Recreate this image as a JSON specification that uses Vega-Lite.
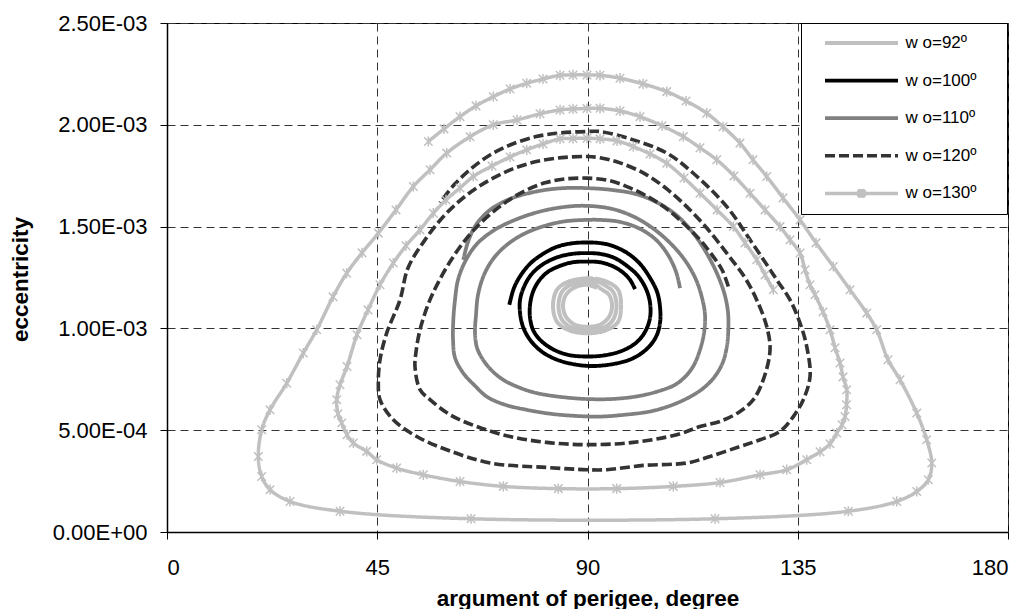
{
"$schema":"https://vega.github.io/schema/vega-lite/v6.json",
"width":841,"height":509,
"autosize":{"type":"none"},
"padding":{"left":167,"top":23,"right":22,"bottom":77},
"background":"white",
"config":{
 "view":{"stroke":"#000","strokeWidth":1},
 "font":"Liberation Sans",
 "axis":{"domainColor":"#000","domainWidth":1.5,"tickColor":"#000","tickSize":7,"tickWidth":1,
  "labelColor":"#000","labelFont":"Liberation Sans","labelFontSize":22,
  "titleFont":"Liberation Sans","titleFontWeight":"bold","titleFontSize":22.5,"titleColor":"#000",
  "gridDash":[8,5],"gridWidth":1,"gridColor":"#333"}
},
"data":{"values":[
{"s":"92","x":92.04,"y":0.001199},{"s":"92","x":89.9,"y":0.001214},{"s":"92","x":87.33,"y":0.001202},{"s":"92","x":85.4,"y":0.001165},{"s":"92","x":84.76,"y":0.001111},{"s":"92","x":85.4,"y":0.001057},{"s":"92","x":87.33,"y":0.001018},{"s":"92","x":90.0,"y":0.001008},{"s":"92","x":92.68,"y":0.001018},{"s":"92","x":94.61,"y":0.001057},{"s":"92","x":95.25,"y":0.001111},{"s":"92","x":94.61,"y":0.001165},{"s":"92","x":92.89,"y":0.001194},
{"s":"92","x":90.97,"y":0.001226},{"s":"92","x":89.9,"y":0.001229},{"s":"92","x":86.69,"y":0.001217},{"s":"92","x":84.55,"y":0.00118},{"s":"92","x":83.8,"y":0.001111},{"s":"92","x":84.55,"y":0.001042},{"s":"92","x":86.69,"y":0.001003},{"s":"92","x":90.0,"y":0.000993},{"s":"92","x":93.32,"y":0.001003},{"s":"92","x":95.46,"y":0.001042},{"s":"92","x":96.21,"y":0.001111},{"s":"92","x":95.46,"y":0.00118},{"s":"92","x":93.32,"y":0.001217},
{"s":"92","x":90.97,"y":0.001245},{"s":"92","x":89.9,"y":0.001246},{"s":"92","x":86.04,"y":0.001231},{"s":"92","x":83.48,"y":0.00119},{"s":"92","x":82.62,"y":0.001111},{"s":"92","x":83.48,"y":0.001032},{"s":"92","x":86.04,"y":0.000991},{"s":"92","x":90.0,"y":0.000976},{"s":"92","x":93.96,"y":0.000991},{"s":"92","x":96.53,"y":0.001032},{"s":"92","x":97.17,"y":0.001111},{"s":"92","x":96.53,"y":0.00119},{"s":"92","x":93.96,"y":0.001231},{"s":"92","x":91.61,"y":0.001245},

{"s":"100","x":100.17,"y":0.001193},{"s":"100","x":99.1,"y":0.001239},{"s":"100","x":97.39,"y":0.001278},{"s":"100","x":95.25,"y":0.001307},{"s":"100","x":92.68,"y":0.001325},{"s":"100","x":89.9,"y":0.001328},{"s":"100","x":86.9,"y":0.001325},{"s":"100","x":84.12,"y":0.001307},{"s":"100","x":81.55,"y":0.001278},{"s":"100","x":79.62,"y":0.001234},{"s":"100","x":78.34,"y":0.00118},{"s":"100","x":77.7,"y":0.001116},{"s":"100","x":77.7,"y":0.001052},{"s":"100","x":78.34,"y":0.000993},{"s":"100","x":79.84,"y":0.000944},{"s":"100","x":82.41,"y":0.0009},{"s":"100","x":85.83,"y":0.00087},{"s":"100","x":89.9,"y":0.000862},{"s":"100","x":93.75,"y":0.000868},{"s":"100","x":97.39,"y":0.00089},{"s":"100","x":100.38,"y":0.000929},{"s":"100","x":102.31,"y":0.000983},{"s":"100","x":103.38,"y":0.001052},{"s":"100","x":103.38,"y":0.001126},{"s":"100","x":102.52,"y":0.001194},{"s":"100","x":100.81,"y":0.001258},{"s":"100","x":98.46,"y":0.001307},{"s":"100","x":95.68,"y":0.001347},{"s":"100","x":92.68,"y":0.001366},{"s":"100","x":89.9,"y":0.00137},{"s":"100","x":86.69,"y":0.001366},{"s":"100","x":83.26,"y":0.001347},{"s":"100","x":80.27,"y":0.001312},{"s":"100","x":77.91,"y":0.001263},{"s":"100","x":76.41,"y":0.001204},{"s":"100","x":75.56,"y":0.00114},{"s":"100","x":75.56,"y":0.001077},{"s":"100","x":76.2,"y":0.001008},{"s":"100","x":77.7,"y":0.000944},{"s":"100","x":80.27,"y":0.000885},{"s":"100","x":84.12,"y":0.000841},{"s":"100","x":89.9,"y":0.000816},{"s":"100","x":95.25,"y":0.000824},{"s":"100","x":99.53,"y":0.000851},{"s":"100","x":102.74,"y":0.0009},{"s":"100","x":104.67,"y":0.000959},{"s":"100","x":105.52,"y":0.001027},{"s":"100","x":105.52,"y":0.001106},{"s":"100","x":104.88,"y":0.00118},{"s":"100","x":103.38,"y":0.001248},{"s":"100","x":101.24,"y":0.001317},{"s":"100","x":98.46,"y":0.001371},{"s":"100","x":95.25,"y":0.001406},{"s":"100","x":92.68,"y":0.001419},{"s":"100","x":89.9,"y":0.001422},{"s":"100","x":86.69,"y":0.001418},{"s":"100","x":83.48,"y":0.001401},{"s":"100","x":80.48,"y":0.001366},{"s":"100","x":77.91,"y":0.001322},{"s":"100","x":75.77,"y":0.001263},{"s":"100","x":74.27,"y":0.001199},{"s":"100","x":73.27,"y":0.001116},

{"s":"110","x":109.8,"y":0.001198},{"s":"110","x":108.95,"y":0.001278},{"s":"110","x":107.23,"y":0.001361},{"s":"110","x":104.67,"y":0.001435},{"s":"110","x":101.24,"y":0.001489},{"s":"110","x":96.96,"y":0.001523},{"s":"110","x":92.68,"y":0.001533},{"s":"110","x":89.9,"y":0.001533},{"s":"110","x":85.19,"y":0.001526},{"s":"110","x":80.91,"y":0.001504},{"s":"110","x":76.84,"y":0.001469},{"s":"110","x":72.99,"y":0.001415},{"s":"110","x":69.99,"y":0.001347},{"s":"110","x":67.85,"y":0.001263},{"s":"110","x":66.57,"y":0.001165},{"s":"110","x":66.14,"y":0.001067},{"s":"110","x":65.92,"y":0.000978},{"s":"110","x":66.35,"y":0.000905},{"s":"110","x":67.64,"y":0.000846},{"s":"110","x":69.56,"y":0.000792},{"s":"110","x":71.92,"y":0.000748},{"s":"110","x":75.56,"y":0.000708},{"s":"110","x":79.19,"y":0.000682},{"s":"110","x":84.12,"y":0.000664},{"s":"110","x":89.9,"y":0.000653},{"s":"110","x":95.89,"y":0.000654},{"s":"110","x":101.24,"y":0.000669},{"s":"110","x":105.52,"y":0.000694},{"s":"110","x":108.73,"y":0.000723},{"s":"110","x":111.09,"y":0.000767},{"s":"110","x":112.8,"y":0.000821},{"s":"110","x":114.08,"y":0.000895},{"s":"110","x":114.94,"y":0.000978},{"s":"110","x":115.15,"y":0.001067},{"s":"110","x":114.51,"y":0.00115},{"s":"110","x":113.23,"y":0.001239},{"s":"110","x":111.09,"y":0.001327},{"s":"110","x":108.09,"y":0.00141},{"s":"110","x":104.45,"y":0.001484},{"s":"110","x":99.96,"y":0.001548},{"s":"110","x":95.25,"y":0.001587},{"s":"110","x":89.9,"y":0.001602},{"s":"110","x":85.19,"y":0.001597},{"s":"110","x":79.84,"y":0.001574},{"s":"110","x":74.49,"y":0.001533},{"s":"110","x":69.78,"y":0.001479},{"s":"110","x":66.14,"y":0.00141},{"s":"110","x":63.78,"y":0.001327},{"s":"110","x":62.29,"y":0.001239},{"s":"110","x":61.64,"y":0.00114},{"s":"110","x":61.28,"y":0.001042},{"s":"110","x":61.22,"y":0.000944},{"s":"110","x":61.64,"y":0.000856},{"s":"110","x":63.36,"y":0.000782},{"s":"110","x":65.92,"y":0.000718},{"s":"110","x":68.49,"y":0.000664},{"s":"110","x":72.35,"y":0.000625},{"s":"110","x":77.05,"y":0.0006},{"s":"110","x":81.98,"y":0.000581},{"s":"110","x":86.9,"y":0.000571},{"s":"110","x":92.68,"y":0.000567},{"s":"110","x":98.03,"y":0.000576},{"s":"110","x":103.38,"y":0.000592},{"s":"110","x":107.66,"y":0.00062},{"s":"110","x":111.94,"y":0.000664},{"s":"110","x":115.15,"y":0.000713},{"s":"110","x":117.51,"y":0.000772},{"s":"110","x":119.01,"y":0.000836},{"s":"110","x":119.86,"y":0.000915},{"s":"110","x":120.14,"y":0.000993},{"s":"110","x":120.08,"y":0.001077},{"s":"110","x":119.43,"y":0.00116},{"s":"110","x":117.94,"y":0.001258},{"s":"110","x":115.58,"y":0.001366},{"s":"110","x":112.59,"y":0.001469},{"s":"110","x":108.95,"y":0.001558},{"s":"110","x":104.67,"y":0.001621},{"s":"110","x":100.17,"y":0.001661},{"s":"110","x":95.25,"y":0.00168},{"s":"110","x":89.9,"y":0.001689},{"s":"110","x":84.12,"y":0.001688},{"s":"110","x":78.77,"y":0.001671},{"s":"110","x":73.42,"y":0.001636},{"s":"110","x":69.14,"y":0.001582},{"s":"110","x":66.14,"y":0.001509},{"s":"110","x":64.43,"y":0.001425},{"s":"110","x":63.42,"y":0.001337},

{"s":"120","x":120.14,"y":0.001206},{"s":"120","x":118.79,"y":0.001288},{"s":"120","x":116.65,"y":0.001361},{"s":"120","x":114.08,"y":0.001435},{"s":"120","x":110.87,"y":0.001509},{"s":"120","x":107.23,"y":0.001582},{"s":"120","x":103.38,"y":0.001641},{"s":"120","x":99.1,"y":0.00169},{"s":"120","x":94.82,"y":0.001725},{"s":"120","x":89.9,"y":0.001738},{"s":"120","x":85.19,"y":0.001734},{"s":"120","x":80.91,"y":0.001715},{"s":"120","x":76.63,"y":0.001676},{"s":"120","x":72.35,"y":0.001617},{"s":"120","x":68.06,"y":0.001538},{"s":"120","x":64.21,"y":0.001445},{"s":"120","x":60.57,"y":0.001327},{"s":"120","x":57.79,"y":0.001214},{"s":"120","x":55.86,"y":0.001116},{"s":"120","x":54.15,"y":0.000993},{"s":"120","x":53.3,"y":0.000885},{"s":"120","x":53.08,"y":0.000811},{"s":"120","x":54.15,"y":0.000699},{"s":"120","x":56.29,"y":0.00065},{"s":"120","x":60.57,"y":0.000576},{"s":"120","x":66.29,"y":0.000518},{"s":"120","x":73.42,"y":0.000469},{"s":"120","x":81.27,"y":0.00044},{"s":"120","x":89.9,"y":0.000429},{"s":"120","x":99.74,"y":0.00044},{"s":"120","x":109.1,"y":0.000478},{"s":"120","x":114.08,"y":0.000518},{"s":"120","x":118.36,"y":0.000543},{"s":"120","x":122.64,"y":0.000592},{"s":"120","x":125.49,"y":0.00065},{"s":"120","x":127.63,"y":0.000748},{"s":"120","x":129.07,"y":0.000895},{"s":"120","x":128.36,"y":0.001009},{"s":"120","x":126.22,"y":0.00114},{"s":"120","x":123.72,"y":0.001248},{"s":"120","x":120.08,"y":0.001361},{"s":"120","x":116.22,"y":0.001474},{"s":"120","x":111.94,"y":0.001582},{"s":"120","x":107.23,"y":0.00168},{"s":"120","x":102.31,"y":0.001759},{"s":"120","x":96.96,"y":0.001813},{"s":"120","x":92.68,"y":0.001838},{"s":"120","x":89.9,"y":0.001844},{"s":"120","x":85.19,"y":0.00184},{"s":"120","x":79.84,"y":0.001823},{"s":"120","x":74.49,"y":0.001788},{"s":"120","x":69.14,"y":0.00173},{"s":"120","x":64.21,"y":0.001656},{"s":"120","x":59.5,"y":0.001558},{"s":"120","x":55.22,"y":0.001435},{"s":"120","x":51.58,"y":0.001297},{"s":"120","x":49.87,"y":0.00114},{"s":"120","x":47.02,"y":0.000977},{"s":"120","x":45.59,"y":0.000846},{"s":"120","x":45.23,"y":0.000731},{"s":"120","x":45.59,"y":0.00065},{"s":"120","x":48.44,"y":0.000551},{"s":"120","x":53.45,"y":0.000469},{"s":"120","x":59.87,"y":0.000404},{"s":"120","x":69.14,"y":0.000339},{"s":"120","x":81.27,"y":0.000317},{"s":"120","x":89.9,"y":0.000306},{"s":"120","x":94.11,"y":0.000306},{"s":"120","x":101.95,"y":0.000327},{"s":"120","x":111.24,"y":0.000339},{"s":"120","x":116.22,"y":0.000371},{"s":"120","x":122.64,"y":0.00042},{"s":"120","x":126.93,"y":0.000453},{"s":"120","x":131.21,"y":0.000494},{"s":"120","x":134.05,"y":0.000567},{"s":"120","x":136.19,"y":0.00065},{"s":"120","x":137.63,"y":0.000764},{"s":"120","x":136.92,"y":0.000911},{"s":"120","x":135.49,"y":0.001026},{"s":"120","x":133.35,"y":0.00114},{"s":"120","x":130.5,"y":0.001239},{"s":"120","x":124.79,"y":0.001435},{"s":"120","x":119.8,"y":0.001598},{"s":"120","x":112.65,"y":0.001762},{"s":"120","x":106.96,"y":0.001861},{"s":"120","x":99.81,"y":0.001926},{"s":"120","x":92.68,"y":0.001967},{"s":"120","x":89.9,"y":0.001967},{"s":"120","x":84.12,"y":0.00196},{"s":"120","x":78.77,"y":0.001941},{"s":"120","x":73.42,"y":0.001901},{"s":"120","x":69.14,"y":0.001852},{"s":"120","x":65.28,"y":0.001788},{"s":"120","x":61.64,"y":0.00171},{"s":"120","x":58.43,"y":0.001617},

{"s":"130","x":129.77,"y":0.00119},{"s":"130","x":128.0,"y":0.001263},{"s":"130","x":126.22,"y":0.001337},{"s":"130","x":123.72,"y":0.00142},{"s":"130","x":121.21,"y":0.0015},{"s":"130","x":117.72,"y":0.001582},{"s":"130","x":114.08,"y":0.001664},{"s":"130","x":110.66,"y":0.001739},{"s":"130","x":106.96,"y":0.001811},{"s":"130","x":103.38,"y":0.001857},{"s":"130","x":99.81,"y":0.001893},{"s":"130","x":96.32,"y":0.001921},{"s":"130","x":92.68,"y":0.001931},{"s":"130","x":89.9,"y":0.001934},{"s":"130","x":86.9,"y":0.001933},{"s":"130","x":84.12,"y":0.001931},{"s":"130","x":80.48,"y":0.001906},{"s":"130","x":76.99,"y":0.001877},{"s":"130","x":73.42,"y":0.001842},{"s":"130","x":69.56,"y":0.001798},{"s":"130","x":65.56,"y":0.001746},{"s":"130","x":62.71,"y":0.00169},{"s":"130","x":59.72,"y":0.001631},{"s":"130","x":57.0,"y":0.001566},{"s":"130","x":54.15,"y":0.001484},{"s":"130","x":51.16,"y":0.001406},{"s":"130","x":48.44,"y":0.001321},{"s":"130","x":45.59,"y":0.001214},{"s":"130","x":43.02,"y":0.001091},{"s":"130","x":40.67,"y":0.000969},{"s":"130","x":38.53,"y":0.000813},{"s":"130","x":37.03,"y":0.000723},{"s":"130","x":36.32,"y":0.00065},{"s":"130","x":36.6,"y":0.000581},{"s":"130","x":37.39,"y":0.000535},{"s":"130","x":38.53,"y":0.000478},{"s":"130","x":39.88,"y":0.000437},{"s":"130","x":42.74,"y":0.000396},{"s":"130","x":44.88,"y":0.000355},{"s":"130","x":49.16,"y":0.000314},{"s":"130","x":54.86,"y":0.000281},{"s":"130","x":62.71,"y":0.000248},{"s":"130","x":71.98,"y":0.000224},{"s":"130","x":83.75,"y":0.000213},{"s":"130","x":96.25,"y":0.000213},{"s":"130","x":108.37,"y":0.000224},{"s":"130","x":118.36,"y":0.000243},{"s":"130","x":126.93,"y":0.000281},{"s":"130","x":132.64,"y":0.000306},{"s":"130","x":136.92,"y":0.000355},{"s":"130","x":139.77,"y":0.000394},{"s":"130","x":141.91,"y":0.000433},{"s":"130","x":143.34,"y":0.000486},{"s":"130","x":144.48,"y":0.000527},{"s":"130","x":145.12,"y":0.000567},{"s":"130","x":145.44,"y":0.000625},{"s":"130","x":145.48,"y":0.000699},{"s":"130","x":144.69,"y":0.000762},{"s":"130","x":144.05,"y":0.00083},{"s":"130","x":142.98,"y":0.000905},{"s":"130","x":141.91,"y":0.000993},{"s":"130","x":140.41,"y":0.001081},{"s":"130","x":138.7,"y":0.001165},{"s":"130","x":137.63,"y":0.001214},{"s":"130","x":136.56,"y":0.001288},{"s":"130","x":135.49,"y":0.00137},{"s":"130","x":133.35,"y":0.001435},{"s":"130","x":131.21,"y":0.0015},{"s":"130","x":128.0,"y":0.001582},{"s":"130","x":124.79,"y":0.001664},{"s":"130","x":121.36,"y":0.001749},{"s":"130","x":117.66,"y":0.001828},{"s":"130","x":114.08,"y":0.001887},{"s":"130","x":110.51,"y":0.001942},{"s":"130","x":105.95,"y":0.001995},{"s":"130","x":101.24,"y":0.00204},{"s":"130","x":96.96,"y":0.002068},{"s":"130","x":92.68,"y":0.002081},{"s":"130","x":89.9,"y":0.00208},{"s":"130","x":86.9,"y":0.002078},{"s":"130","x":84.12,"y":0.002073},{"s":"130","x":79.84,"y":0.002054},{"s":"130","x":74.91,"y":0.002024},{"s":"130","x":69.84,"y":0.002},{"s":"130","x":64.85,"y":0.001941},{"s":"130","x":59.87,"y":0.001861},{"s":"130","x":56.29,"y":0.001779},{"s":"130","x":52.72,"y":0.001697},{"s":"130","x":49.01,"y":0.001582},{"s":"130","x":45.23,"y":0.001468},{"s":"130","x":41.74,"y":0.001371},{"s":"130","x":38.46,"y":0.001271},{"s":"130","x":35.53,"y":0.001155},{"s":"130","x":32.04,"y":0.000993},{"s":"130","x":29.17,"y":0.000879},{"s":"130","x":25.62,"y":0.000731},{"s":"130","x":22.05,"y":0.0006},{"s":"130","x":20.27,"y":0.000502},{"s":"130","x":19.54,"y":0.000371},{"s":"130","x":20.27,"y":0.000273},{"s":"130","x":22.05,"y":0.000208},{"s":"130","x":26.33,"y":0.00015},{"s":"130","x":37.03,"y":0.000102},{"s":"130","x":65.07,"y":0.000065},{"s":"130","x":117.29,"y":0.000065},{"s":"130","x":145.82,"y":0.000102},{"s":"130","x":156.19,"y":0.00015},{"s":"130","x":160.47,"y":0.000199},{"s":"130","x":162.95,"y":0.000257},{"s":"130","x":163.68,"y":0.000339},{"s":"130","x":162.6,"y":0.000453},{"s":"130","x":160.47,"y":0.000584},{"s":"130","x":156.89,"y":0.000748},{"s":"130","x":154.32,"y":0.000846},{"s":"130","x":151.9,"y":0.000993},{"s":"130","x":149.76,"y":0.001075},{"s":"130","x":146.19,"y":0.00119},{"s":"130","x":142.62,"y":0.001304},{"s":"130","x":138.91,"y":0.00142},{"s":"130","x":135.49,"y":0.001533},{"s":"130","x":131.85,"y":0.001641},{"s":"130","x":128.36,"y":0.001746},{"s":"130","x":125.43,"y":0.001828},{"s":"130","x":122.64,"y":0.00191},{"s":"130","x":119.01,"y":0.00199},{"s":"130","x":115.52,"y":0.002057},{"s":"130","x":111.09,"y":0.002117},{"s":"130","x":106.96,"y":0.002163},{"s":"130","x":101.88,"y":0.002201},{"s":"130","x":96.96,"y":0.002229},{"s":"130","x":92.68,"y":0.002243},{"s":"130","x":89.9,"y":0.002245},{"s":"130","x":86.9,"y":0.002245},{"s":"130","x":84.12,"y":0.002243},{"s":"130","x":80.48,"y":0.002225},{"s":"130","x":76.99,"y":0.002204},{"s":"130","x":73.42,"y":0.002176},{"s":"130","x":69.84,"y":0.002138},{"s":"130","x":66.14,"y":0.002093},{"s":"130","x":62.71,"y":0.00204},{"s":"130","x":59.29,"y":0.00198},{"s":"130","x":55.93,"y":0.001918}
]},
"layer":[
{"mark":{"type":"line","interpolate":"catmull-rom"},
 "encoding":{
  "x":{"field":"x","type":"quantitative","scale":{"domain":[0,180],"nice":false,"zero":false},
   "axis":{"values":[0,45,90,135,180],"title":"argument of perigee, degree","labelPadding":18,"titleY":73,"titleBaseline":"alphabetic"}},
  "y":{"field":"y","type":"quantitative","scale":{"domain":[0,0.0025],"nice":false},
   "axis":{"values":[0,0.0005,0.001,0.0015,0.002,0.0025],"title":"eccentricity","labelPadding":13,
    "labelExpr":"replace(replace(format(datum.value, '.2e'), 'e-', 'E-0'), 'e+', 'E+0')",
    "titleX":-140,"titleY":256,"titleBaseline":"alphabetic"}},
  "color":{"field":"s","type":"nominal",
   "scale":{"domain":["92","100","110","120","130"],"range":["#c0c0c0","#000000","#808080","#333333","#c0c0c0"]},
   "legend":{"orient":"none","legendX":634,"legendY":0,"title":null,"padding":11.5,"rowPadding":19.6,
    "symbolType":"stroke","symbolSize":5329,"clipHeight":17,"symbolOffset":10.5,"labelOffset":5.5,
    "labelFont":"Liberation Sans","labelFontSize":17,"labelColor":"#000",
    "strokeColor":"#000","fillColor":"#fff",
    "labelExpr":"'w o=' + datum.label + 'º\u00a0\u00a0\u00a0\u00a0\u200b'",
    "encode":{"symbols":{"update":{
      "shape":{"signal":"datum.value === '130' ? 'M-1,0L1,0M-0.1,-0.1L0.1,0.1M-0.1,0.1L0.1,-0.1M0,-0.12L0,0.12' : 'stroke'"},
      "strokeDash":{"signal":"datum.value === '120' ? [10,13] : [1,0]"}}}}}},
  "strokeDash":{"field":"s","type":"nominal","scale":{"domain":["92","100","110","120","130"],"range":[[1,0],[1,0],[1,0],[10,4],[1,0]]}},
  "strokeWidth":{"field":"s","type":"nominal","scale":{"domain":["92","100","110","120","130"],"range":[4,3.5,3.5,3.5,1.3]}},
  "order":{"value":null}
 }},
{"transform":[{"filter":"datum.s === '130'"}],
 "mark":{"type":"point","shape":"M-1,-1L1,1M-1,1L1,-1M0,-1.2L0,1.2","size":72,"filled":false,"stroke":"#c0c0c0","strokeWidth":1.5,"opacity":1},
 "encoding":{"x":{"field":"x","type":"quantitative"},"y":{"field":"y","type":"quantitative"}}}
]
}
